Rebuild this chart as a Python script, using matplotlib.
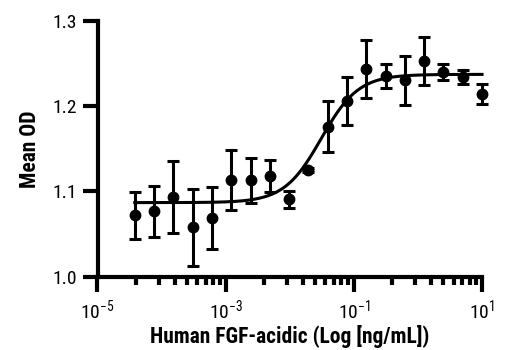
import numpy as np
import matplotlib
matplotlib.use("Agg")
import matplotlib.pyplot as plt
from matplotlib import font_manager
from matplotlib.ticker import FixedLocator, FixedFormatter, NullFormatter

# Prefer a condensed sans face when one is installed
installed = {f.name for f in font_manager.fontManager.ttflist}
base_font = 'Liberation Sans'
for cand in ('Liberation Sans Narrow', 'Roboto Condensed', 'Open Sans Condensed',
             'Noto Sans Condensed', 'DejaVu Sans Condensed'):
    if cand in installed:
        base_font = cand
        break
plt.rcParams['font.family'] = [base_font, 'DejaVu Sans']
plt.rcParams['mathtext.fontset'] = 'custom'
plt.rcParams['mathtext.rm'] = base_font

# Two-fold serial dilution from 10 ng/mL
conc = [10 / 2 ** n for n in range(18, -1, -1)]
mean_od = [1.072, 1.077, 1.094, 1.058, 1.069, 1.113, 1.113, 1.118, 1.091, 1.125,
           1.176, 1.206, 1.243, 1.235, 1.230, 1.253, 1.240, 1.234, 1.214]
od_err = [0.027, 0.030, 0.042, 0.045, 0.036, 0.035, 0.026, 0.019, 0.010, 0.002,
          0.030, 0.028, 0.034, 0.014, 0.029, 0.028, 0.009, 0.008, 0.012]

# Four-parameter logistic fit parameters
fit_bottom = 1.087
fit_top = 1.237
fit_ec50 = 0.031
fit_hill = 1.5

x_major = [1e-5, 1e-3, 1e-1, 1e1]
x_major_labels = [r'$\mathregular{10^{-5}}$', r'$\mathregular{10^{-3}}$',
                  r'$\mathregular{10^{-1}}$', r'$\mathregular{10^{1}}$']
y_ticks = [1.0, 1.1, 1.2, 1.3]
y_tick_labels = ['1.0', '1.1', '1.2', '1.3']

fig = plt.figure(figsize=(5.2, 3.5), dpi=100)
ax = fig.add_axes([0.1875, 0.2086, 0.7395, 0.7328])

xs = np.logspace(np.log10(conc[0]), np.log10(conc[-1]), 400)
ys = fit_bottom + (fit_top - fit_bottom) / (1 + (fit_ec50 / xs) ** fit_hill)
ax.plot(xs, ys, color='black', lw=2.2, zorder=2, clip_on=False)

eb = ax.errorbar(conc, mean_od, yerr=od_err, fmt='o', color='black', ms=7.5,
                 elinewidth=2.2, capsize=4.2, capthick=2.2, zorder=3)
for art in eb.get_children():
    art.set_clip_on(False)

ax.set_xscale('log')
ax.set_xlim(1e-5, 1e1)
ax.set_ylim(1.0, 1.3)

ax.xaxis.set_major_locator(FixedLocator(x_major))
ax.xaxis.set_major_formatter(FixedFormatter(x_major_labels))
minor = [k ** 2 * m for m in x_major[:-1] for k in range(2, 10)]
ax.xaxis.set_minor_locator(FixedLocator(minor))
ax.xaxis.set_minor_formatter(NullFormatter())

ax.yaxis.set_major_locator(FixedLocator(y_ticks))
ax.yaxis.set_major_formatter(FixedFormatter(y_tick_labels))
ax.yaxis.set_minor_locator(FixedLocator([]))

for side in ('top', 'right'):
    ax.spines[side].set_visible(False)
for side in ('left', 'bottom'):
    ax.spines[side].set_linewidth(3)

ax.tick_params(which='major', length=11, width=3, pad=4)
ax.tick_params(which='minor', length=6, width=3)

ax.set_xlabel('Human FGF-acidic (Log [ng/mL])', fontsize=15.5, fontweight='bold', labelpad=2)
ax.set_ylabel('Mean OD', fontsize=15.5, fontweight='bold', labelpad=8)
for lab in ax.get_xticklabels() + ax.get_yticklabels():
    lab.set_fontsize(14)

fig.savefig('out.png', dpi=100)
